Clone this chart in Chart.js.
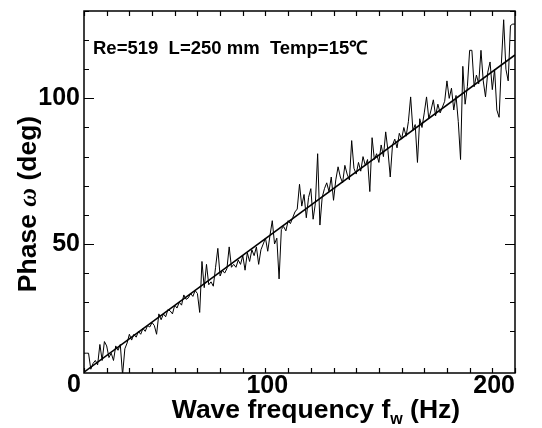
<!DOCTYPE html>
<html>
<head>
<meta charset="utf-8">
<script src="https://cdn.jsdelivr.net/npm/chart.js@4/dist/chart.umd.min.js"></script>
<style>
  body { margin: 0; background: #fff; }
</style>
</head>
<body>
<canvas id="phaseChart" width="542" height="428"></canvas>
<script>
// --- data ---
const freqHz = Array.from({ length: 191 }, (_, i) => 10 + i); // 10..200 Hz, 1 Hz steps
const phaseDeg = [
    12.5, 12.5, 12.5, 7, 9, 10, 8.5, 15.5, 10, 16.5,      // 10-19
    15, 11, 12.5, 10, 15, 13.5, 15.5, 5, 14, 16,           // 20-29
    19, 17, 19, 18, 20, 19, 21, 20, 22, 21.5,              // 30-39
    23, 22, 19, 26, 24, 26, 25, 27.5, 27, 26,              // 40-49
    29, 28, 30, 29, 32.5, 31, 31.5, 33, 32, 34,            // 50-59
    33, 26.5, 44, 35, 43, 36, 37, 35.5, 42, 48.5,          // 60-69
    39, 41, 40, 41.5, 49, 42, 43, 42, 44.5, 43,            // 70-79
    46, 41, 47, 44, 48, 46, 49, 43, 48, 50,                // 80-89
    52, 47.5, 53, 58, 50, 52, 38, 55, 56, 54.5,            // 90-99
    58, 57, 59, 61, 62, 70.5, 63, 67, 59, 66,              // 100-109
    69, 58.5, 64, 81, 56.5, 66, 69, 71, 68, 73,            // 110-119
    65, 72, 76.5, 73, 71, 77, 74, 72, 85.5, 76,            // 120-129
    74, 78, 75, 80, 77, 79, 68, 86.5, 79, 81,              // 130-139
    78, 84, 80, 88.5, 82, 73, 84, 86, 83, 88,              // 140-149
    86, 90, 87, 92, 100.5, 89, 91, 78, 93, 90,             // 150-159
    95, 100.5, 93, 96, 99.5, 94, 98, 95, 97, 99,           // 160-169
    106, 100, 103.5, 96, 101, 92, 79, 111, 98, 104,        // 170-179
    116.5, 116.5, 104, 108, 105, 116.5, 106, 100.5, 109, 112.5, // 180-189
    103, 110, 96, 93.5, 112, 127, 110, 106, 125, 125.5,    // 190-199
    125.5                                                  // 200
];
// least squares line drawn over the data
const fitFreq = [10, 200];
const fitPhase = [6.0, 114.9];

const xLabelled = [100, 200];
const yLabelled = [50, 100];

const FONT = "'Liberation Sans', Arial, sans-serif";

// frame, inward ticks, axis titles and the note in the corner
const framePlugin = {
    id: 'frame',
    afterDraw(chart) {
        const ctx = chart.ctx;
        const a = chart.chartArea;
        const xs = chart.scales.x;
        const ys = chart.scales.y;
        ctx.save();
        ctx.strokeStyle = '#000';
        ctx.lineWidth = 1.5;
        ctx.strokeRect(a.left, a.top, a.right - a.left, a.bottom - a.top);

        ctx.lineWidth = 1.2;
        ctx.beginPath();
        xs.ticks.forEach(t => {
            if (t.value % 10 !== 0) return;
            const px = Math.round(xs.getPixelForValue(t.value)) + 0.5;
            ctx.moveTo(px, a.bottom); ctx.lineTo(px, a.bottom - 5);
            ctx.moveTo(px, a.top); ctx.lineTo(px, a.top + 5);
        });
        ys.ticks.forEach(t => {
            if (t.value % 10 !== 0) return;
            const py = Math.round(ys.getPixelForValue(t.value)) + 0.5;
            const len = t.value % 50 === 0 ? 10 : 5;
            ctx.moveTo(a.left, py); ctx.lineTo(a.left + len, py);
            ctx.moveTo(a.right, py); ctx.lineTo(a.right - len, py);
        });
        ctx.stroke();

        ctx.fillStyle = '#000';
        // the "0" that sits under the y axis
        ctx.font = 'bold 25px ' + FONT;
        ctx.textAlign = 'right';
        ctx.textBaseline = 'middle';
        ctx.fillText('0', a.left - 3, a.bottom + 12);

        // x axis title with subscript
        ctx.textBaseline = 'alphabetic';
        ctx.textAlign = 'left';
        const big = 'bold 26.5px ' + FONT;
        const sub = 'bold 16px ' + FONT;
        const p1 = 'Wave frequency f', p2 = 'w', p3 = ' (Hz)';
        ctx.font = big; const w1 = ctx.measureText(p1).width, w3 = ctx.measureText(p3).width;
        ctx.font = sub; const w2 = ctx.measureText(p2).width;
        let x0 = 316 - (w1 + w2 + w3) / 2;
        const base = 418;
        ctx.font = big; ctx.fillText(p1, x0, base);
        ctx.font = sub; ctx.fillText(p2, x0 + w1, base + 6);
        ctx.font = big; ctx.fillText(p3, x0 + w1 + w2, base);

        // y axis title, rotated
        ctx.save();
        ctx.translate(36, 204);
        ctx.rotate(-Math.PI / 2);
        const q1 = 'Phase ', q2 = '\u03c9', q3 = ' (deg)';
        const ital = 'italic bold 26px "Liberation Serif", serif';
        ctx.font = big; const v1 = ctx.measureText(q1).width, v3 = ctx.measureText(q3).width;
        ctx.font = ital; const v2 = ctx.measureText(q2).width;
        let y0 = -(v1 + v2 + v3) / 2;
        ctx.font = big; ctx.fillText(q1, y0, 0);
        ctx.font = ital; ctx.fillText(q2, y0 + v1, 0);
        ctx.font = big; ctx.fillText(q3, y0 + v1 + v2, 0);
        ctx.restore();

        // run conditions
        ctx.font = 'bold 18.5px ' + FONT;
        ctx.fillText('Re=519  L=250 mm  Temp=15\u2103', a.left + 9, a.top + 43);
        ctx.restore();
    }
};

new Chart(document.getElementById('phaseChart'), {
    type: 'line',
    data: {
        datasets: [{
            data: freqHz.map((f, i) => ({ x: f, y: phaseDeg[i] })),
            borderColor: '#000',
            borderWidth: 1,
            pointRadius: 0,
            tension: 0
        }, {
            data: fitFreq.map((f, i) => ({ x: f, y: fitPhase[i] })),
            borderColor: '#000',
            borderWidth: 1.6,
            pointRadius: 0,
            tension: 0
        }]
    },
    options: {
        responsive: false,
        animation: false,
        layout: { padding: { top: 11, right: 27, left: 0, bottom: 0 } },
        plugins: {
            legend: { display: false },
            tooltip: { enabled: false }
        },
        scales: {
            x: {
                type: 'linear',
                min: 10,
                max: 200,
                grid: { display: false, drawTicks: false },
                border: { display: false },
                afterFit(scale) {
                    scale.height = 55;
                    scale.paddingLeft = 0;
                    scale.paddingRight = 0;
                },
                ticks: {
                    stepSize: 10,
                    autoSkip: false,
                    maxRotation: 0,
                    align: 'end',
                    padding: -2,
                    color: '#000',
                    font: { family: FONT, size: 25, weight: 'bold' },
                    callback: v => (xLabelled.includes(v) ? String(v) : '')
                }
            },
            y: {
                min: 5.7,
                max: 130,
                grid: { display: false, drawTicks: false },
                border: { display: false },
                afterFit(scale) {
                    scale.width = 84;
                    scale.paddingTop = 0;
                    scale.paddingBottom = 0;
                },
                ticks: {
                    stepSize: 10,
                    autoSkip: false,
                    padding: 4,
                    color: '#000',
                    font: { family: FONT, size: 25, weight: 'bold' },
                    callback: v => (yLabelled.includes(v) ? String(v) : '')
                }
            }
        }
    },
    plugins: [framePlugin]
});
</script>
</body>
</html>
